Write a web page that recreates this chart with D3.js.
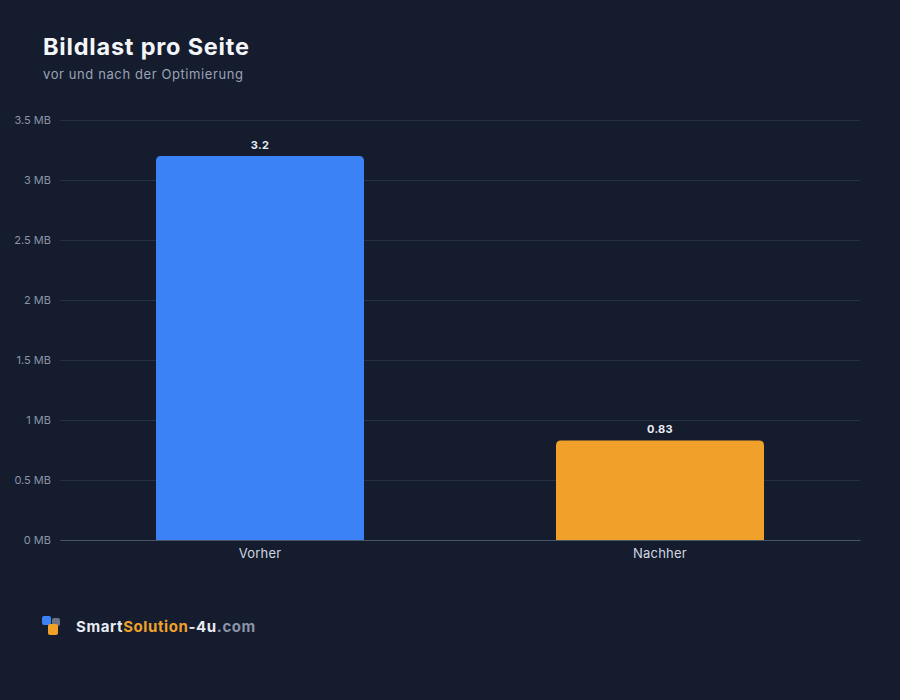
<!DOCTYPE html>
<html>
<head>
<meta charset="utf-8">
<script src="https://cdn.jsdelivr.net/npm/d3@7"></script>
<style>
  html, body { margin: 0; padding: 0; background: #151c2e; }
  svg { display: block; font-family: Inter, "DejaVu Sans", sans-serif; }
</style>
</head>
<body>
<div id="chart"></div>
<script>
// Daten
var categories = ["Vorher", "Nachher"];
var values = [3.2, 0.83];
var valueLabels = ["3.2", "0.83"];
var barColors = ["#3b82f6", "#efa12a"];
var yTicks = [0, 0.5, 1, 1.5, 2, 2.5, 3, 3.5];

function drawChart(){
    var width = 900;
    var height = 700;
    var margin = {top: 120, right: 40, bottom: 160, left: 60};

    var svg = d3.select("#chart")
                .append("svg")
                .attr("width", width)
                .attr("height", height);

    svg.append("rect")
        .attr("width", width)
        .attr("height", height)
        .attr("fill", "#151c2e");

    // Titel
    svg.append("text")
        .attr("x", 43)
        .attr("y", 55)
        .attr("fill", "#f3f5f9")
        .attr("font-size", 23.5)
        .attr("font-weight", 700)
        .attr("letter-spacing", 0.8)
        .text("Bildlast pro Seite");
    svg.append("text")
        .attr("x", 43)
        .attr("y", 79)
        .attr("fill", "#9aa3b5")
        .attr("font-size", 13)
        .attr("letter-spacing", 0.6)
        .text("vor und nach der Optimierung");

    var x = d3.scaleBand()
              .domain(categories)
              .range([margin.left, width - margin.right])
              .paddingInner(0.48)
              .paddingOuter(0.24);
    var y = d3.scaleLinear()
              .domain([0, 3.5])
              .range([height - margin.bottom, margin.top]);

    // Gitter + Y-Achse
    var yAxis = svg.append("g")
        .attr("transform", "translate(" + margin.left + ",0)")
        .call(d3.axisLeft(y)
                .tickValues(yTicks)
                .tickSize(-(width - margin.left - margin.right))
                .tickPadding(9)
                .tickFormat(function(d){ return d + " MB"; }));
    yAxis.select(".domain").remove();
    yAxis.selectAll(".tick line")
        .attr("stroke", "#263044")
        .attr("stroke-width", 1);
    yAxis.selectAll(".tick text")
        .attr("fill", "#8a94a8")
        .attr("font-size", 11)
        .attr("font-family", "Inter, 'DejaVu Sans', sans-serif");

    // Balken (nur oben gerundet)
    var r = 5;
    svg.selectAll(".bar")
        .data(values)
        .enter()
        .append("path")
        .attr("class", "bar")
        .attr("fill", function(d, i){ return barColors[i]; })
        .attr("d", function(d, i){
            var x0 = x(categories[i]), w = x.bandwidth();
            var y0 = y(d), y1 = y(0);
            return "M" + x0 + "," + y1 +
                   "V" + (y0 + r) +
                   "Q" + x0 + "," + y0 + " " + (x0 + r) + "," + y0 +
                   "H" + (x0 + w - r) +
                   "Q" + (x0 + w) + "," + y0 + " " + (x0 + w) + "," + (y0 + r) +
                   "V" + y1 + "Z";
        });

    // Werte
    svg.selectAll(".val")
        .data(values)
        .enter()
        .append("text")
        .attr("class", "val")
        .attr("x", function(d, i){ return x(categories[i]) + x.bandwidth() / 2; })
        .attr("y", function(d){ return y(d) - 7; })
        .attr("text-anchor", "middle")
        .attr("fill", "#e8ecf2")
        .attr("font-size", 11)
        .attr("font-weight", 700)
        .attr("letter-spacing", 0.3)
        .text(function(d, i){ return valueLabels[i]; });

    // X-Achse
    var xAxis = svg.append("g")
        .attr("transform", "translate(0," + y(0) + ")")
        .call(d3.axisBottom(x).tickSize(0).tickPadding(9));
    xAxis.select(".domain")
        .attr("stroke", "#4a5468");
    xAxis.selectAll(".tick text")
        .attr("fill", "#d0d6e0")
        .attr("font-size", 13)
        .attr("letter-spacing", 0.2)
        .attr("font-family", "Inter, 'DejaVu Sans', sans-serif");

    // Logo
    var logo = svg.append("g");
    logo.append("rect").attr("x", 42).attr("y", 616).attr("width", 9).attr("height", 9).attr("rx", 2).attr("fill", "#3b82f6");
    logo.append("rect").attr("x", 52).attr("y", 618).attr("width", 8).attr("height", 8).attr("rx", 2).attr("fill", "#6b7385");
    logo.append("rect").attr("x", 48).attr("y", 624).attr("width", 10).attr("height", 11).attr("rx", 2).attr("fill", "#efa12a");

    var brand = svg.append("text")
        .attr("x", 76)
        .attr("y", 632)
        .attr("font-size", 15)
        .attr("font-weight", 700)
        .attr("letter-spacing", 0.6);
    brand.append("tspan").attr("fill", "#e8ecf2").text("Smart");
    brand.append("tspan").attr("fill", "#efa12a").text("Solution");
    brand.append("tspan").attr("fill", "#e8ecf2").text("-4u");
    brand.append("tspan").attr("fill", "#8a94a8").text(".com");
}
window.onload = drawChart;
</script>
</body>
</html>
